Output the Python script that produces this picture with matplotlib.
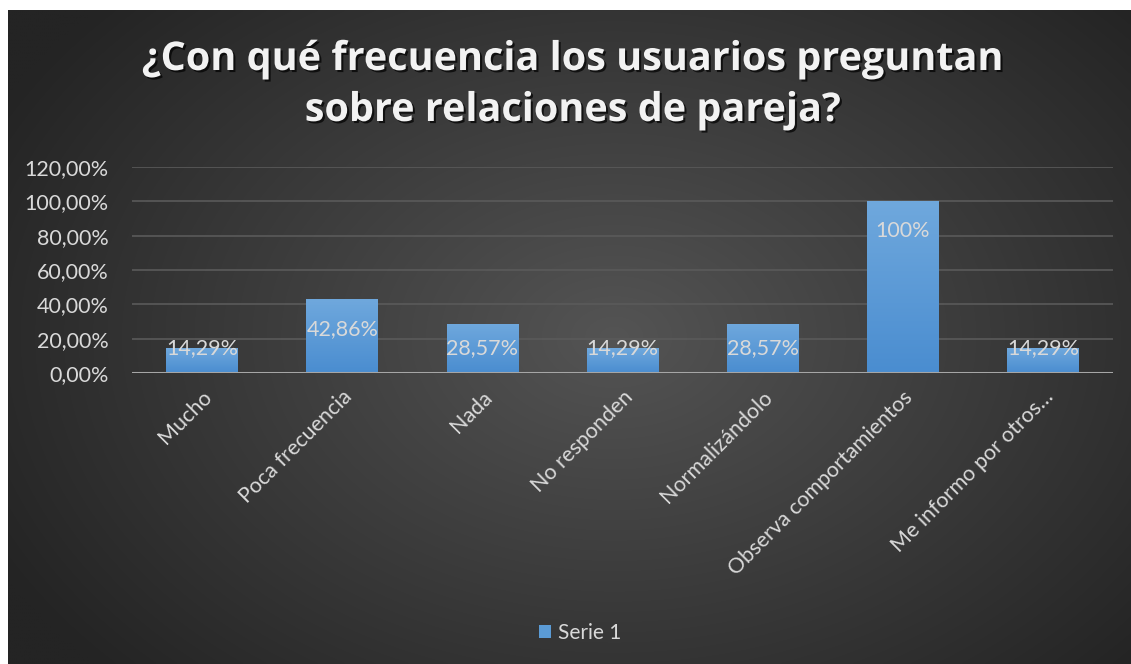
import numpy as np
import matplotlib
matplotlib.use('Agg')
import matplotlib.pyplot as plt
import matplotlib.patheffects as pe
from matplotlib.patches import Patch, Rectangle

# Datos
categorias = ['Mucho', 'Poca frecuencia', 'Nada', 'No responden', 'Normalizándolo',
              'Observa comportamientos', 'Me informo por otros…']
valores = [0.1429, 0.4286, 0.2857, 0.1429, 0.2857, 1.00, 0.1429]
etiquetas = ['14,29%', '42,86%', '28,57%', '14,29%', '28,57%', '100%', '14,29%']
ticks_y = [0.0, 0.2, 0.4, 0.6, 0.8, 1.0, 1.2]
ticks_y_txt = ['0,00%', '20,00%', '40,00%', '60,00%', '80,00%', '100,00%', '120,00%']
titulo = '¿Con qué frecuencia los usuarios preguntan\nsobre relaciones de pareja?'
serie = 'Serie 1'

W, H = 1131, 664
FUENTE = 'Lato'
GRIS_TXT = '#d9d9d9'


def main():
    fig = plt.figure(figsize=(W / 100, H / 100), dpi=100)
    fig.patch.set_facecolor('white')

    # fondo oscuro con degradado radial
    bg = fig.add_axes([8 / W, 0, 1 - 8 / W, (H - 10) / H])
    yy, xx = np.mgrid[0:1:300j, 0:1:500j]
    r = np.sqrt(((xx - 0.54) / 0.62) ** 2 + ((yy - 0.5) / 0.75) ** 2)
    r = np.clip(r, 0, 1)
    c0 = np.array([0x54, 0x54, 0x54]) / 255
    c1 = np.array([0x24, 0x24, 0x24]) / 255
    img = c0[None, None, :] * (1 - r[..., None]) + c1[None, None, :] * r[..., None]
    bg.imshow(img, aspect='auto', extent=[0, 1, 0, 1], interpolation='bilinear')
    bg.set_axis_off()

    # area del grafico
    x0, x1, y_top, y_zero = 132, 1113, 167, 373
    ax = fig.add_axes([x0 / W, (H - y_zero) / H, (x1 - x0) / W, (y_zero - y_top) / H])
    ax.patch.set_alpha(0)
    x = np.arange(len(categorias))

    for t in ticks_y[1:]:
        ax.axhline(t, color='#5a5a5a', lw=1.2, zorder=1)
    ax.axhline(0, color='#a6a6a6', lw=2.2, zorder=4)

    barras = ax.bar(x, valores, width=0.51, color='none', zorder=3)
    grad = np.linspace(0, 1, 100)[:, None]
    cmap = matplotlib.colors.LinearSegmentedColormap.from_list('b', ['#4a8dd0', '#6fa8dd'])
    for b in barras:
        bx, by = b.get_x(), b.get_y()
        im = ax.imshow(grad, cmap=cmap, aspect='auto', origin='lower',
                       extent=[bx, bx + b.get_width(), by, by + b.get_height()], zorder=3)
        im.set_clip_path(b)
        ax.add_patch(Rectangle((bx + 0.01, -0.012), b.get_width(), 0.012,
                               color='black', alpha=0.25, zorder=2))
    ax.set_xlim(-0.5, len(categorias) - 0.5)
    ax.set_ylim(0, 1.2)

    for xi, v, txt in zip(x, valores, etiquetas):
        ax.text(xi, max(v - 0.17, 0.146), txt, ha='center', va='center',
                color=GRIS_TXT, fontsize=15.5, family=FUENTE, zorder=5)

    ax.set_yticks(ticks_y)
    ax.set_yticklabels(ticks_y_txt)
    ax.set_xticks(x)
    ax.set_xticklabels(categorias, rotation=45, ha='right', rotation_mode='anchor')
    ax.tick_params(length=0, colors=GRIS_TXT, labelsize=15.5, pad=10)
    ax.tick_params(axis='y', pad=17)
    for lab in ax.get_xticklabels() + ax.get_yticklabels():
        lab.set_family(FUENTE)
        lab.set_color(GRIS_TXT)
    for s in ax.spines.values():
        s.set_visible(False)

    # titulo
    fig.text(573 / W, 1 - 85 / H, titulo, ha='center', va='center', color='#f2f2f2',
             fontsize=28.5, fontweight='bold', family='Open Sans', linespacing=1.4,
             path_effects=[pe.withSimplePatchShadow(offset=(1.5, -1.5), shadow_rgbFace='black', alpha=0.7)])

    # leyenda
    fig.legend(handles=[Patch(facecolor='#5b9bd5', label=serie)], loc='center',
               bbox_to_anchor=(580 / W, 1 - 633 / H), frameon=False,
               handlelength=0.6, handleheight=0.6, handletextpad=0.3,
               prop={'family': FUENTE, 'size': 15}, labelcolor=GRIS_TXT)

    fig.savefig('out.png', dpi=100)


if __name__ == "__main__":
    main()
